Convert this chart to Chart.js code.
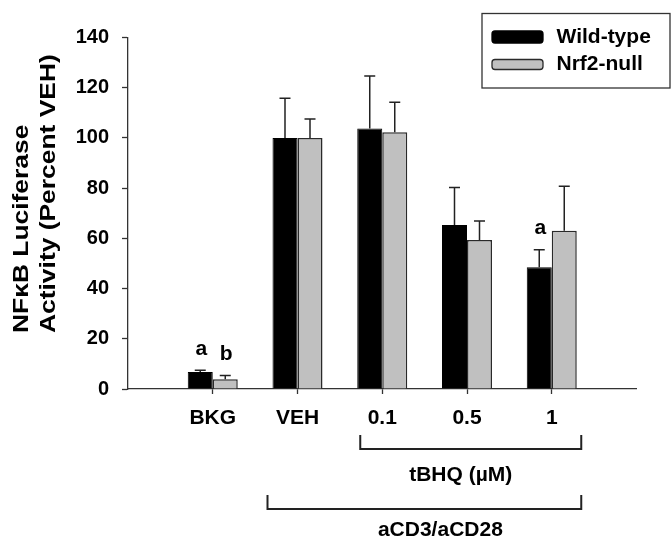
<!DOCTYPE html>
<html lang="en">
<head>
    <meta charset="UTF-8">
    <title>NFkB Luciferase Activity</title>
    <script src="https://cdn.jsdelivr.net/npm/chart.js@4"></script>
    <style>
        html, body { margin: 0; padding: 0; background: #fff; }
        canvas { display: block; }
    </style>
</head>
<body>

<canvas id="chart" width="671" height="538"></canvas>

<script>
    // values (percent of VEH)
    const categories = ['BKG', 'VEH', '0.1', '0.5', '1'];
    const seriesNames = ['Wild-type', 'Nrf2-null'];
    const wildType = [6.8, 100, 103.8, 65.3, 48.5];
    const wildTypeErr = [0.7, 15.8, 20.9, 15.0, 7.0];
    const nrf2Null = [3.9, 100, 102.3, 59.3, 63.0];
    const nrf2NullErr = [1.5, 7.5, 11.9, 7.6, 17.8];
    const wildTypeLetters = ['a', '', '', '', 'a'];
    const nrf2NullLetters = ['b', '', '', '', ''];
    const yMax = 140;
    const yStep = 20;
    const yTitle = ['NF\u03baB Luciferase', 'Activity (Percent VEH)'];
    // brackets under the axis: label, first and last category covered
    const groupLabels = ['tBHQ (\u00b5M)', 'aCD3/aCD28'];
    const groupFrom = ['0.1', 'VEH'];
    const groupTo = ['1', '1'];

    const FONT = "'Liberation Sans', Arial, Helvetica, sans-serif";
    const INK = '#222';

    // one empty slot on each side, so the bars sit at 1..5 on a 0..6 axis like the original
    const labels = ['', ...categories, ''];
    const pad = arr => [null, ...arr, null];

    // error bars (upper half only) and the significance letters
    const errorBars = {
        id: 'errorBars',
        afterDatasetsDraw(chart) {
            const ctx = chart.ctx;
            const yScale = chart.scales.y;
            ctx.save();
            ctx.strokeStyle = INK;
            ctx.lineWidth = 1.5;
            ctx.fillStyle = '#000';
            ctx.font = 'bold 21px ' + FONT;
            ctx.textAlign = 'center';
            ctx.textBaseline = 'middle';
            chart.data.datasets.forEach((ds, d) => {
                chart.getDatasetMeta(d).data.forEach((bar, i) => {
                    const v = ds.data[i];
                    const e = ds.errors[i];
                    if (v == null || e == null) return;
                    const top = yScale.getPixelForValue(v + e);
                    ctx.beginPath();
                    ctx.moveTo(bar.x, bar.y);
                    ctx.lineTo(bar.x, top);
                    ctx.moveTo(bar.x - 5.5, top);
                    ctx.lineTo(bar.x + 5.5, top);
                    ctx.stroke();
                    if (ds.letters[i]) {
                        ctx.fillText(ds.letters[i], bar.x + 1, top - 21);
                    }
                });
            });
            ctx.restore();
        }
    };

    // y title, brackets below the axis, boxed legend
    const decorations = {
        id: 'decorations',
        afterDraw(chart) {
            const ctx = chart.ctx;
            const x = chart.scales.x;
            ctx.save();
            ctx.fillStyle = '#000';

            // y axis title, two lines starting from the same point
            // (the original lettering is drawn wider than Arial, hence the stretch)
            ctx.save();
            ctx.font = 'bold 22px ' + FONT;
            ctx.textAlign = 'left';
            ctx.textBaseline = 'middle';
            ctx.translate(22, 333);
            ctx.rotate(-Math.PI / 2);
            ctx.scale(1.2, 1);
            yTitle.forEach((line, i) => ctx.fillText(line, 0, i * 27));
            ctx.restore();

            // brackets
            const inset = [22, 30];
            const top = [435, 495];
            const textY = [475, 530];
            const textShift = [-10, 16];
            ctx.strokeStyle = INK;
            ctx.lineWidth = 2;
            ctx.font = 'bold 21px ' + FONT;
            ctx.textAlign = 'center';
            ctx.textBaseline = 'middle';
            groupLabels.forEach((txt, g) => {
                const x0 = x.getPixelForValue(labels.indexOf(groupFrom[g])) - inset[g];
                const x1 = x.getPixelForValue(labels.indexOf(groupTo[g])) + 29.5;
                ctx.beginPath();
                ctx.moveTo(x0, top[g]);
                ctx.lineTo(x0, top[g] + 14);
                ctx.lineTo(x1, top[g] + 14);
                ctx.lineTo(x1, top[g]);
                ctx.stroke();
                ctx.fillText(txt, (x0 + x1) / 2 + textShift[g], textY[g]);
            });

            // legend box
            ctx.lineWidth = 1.3;
            ctx.strokeStyle = '#333';
            ctx.strokeRect(482, 13.5, 188, 74.5);
            ctx.textAlign = 'left';
            const rowY = [37, 64.5];
            const swH = [12, 10];
            chart.data.datasets.forEach((ds, d) => {
                ctx.beginPath();
                ctx.roundRect(492, rowY[d] - swH[d] / 2, 51, swH[d], 3);
                ctx.fillStyle = ds.backgroundColor;
                ctx.fill();
                ctx.strokeStyle = ds.borderColor;
                ctx.stroke();
                ctx.fillStyle = '#000';
                ctx.fillText(ds.label, 556.5, rowY[d]);
            });
            ctx.restore();
        }
    };

    new Chart(document.getElementById('chart'), {
        type: 'bar',
        data: {
            labels: labels,
            datasets: [{
                label: seriesNames[0],
                data: pad(wildType),
                errors: pad(wildTypeErr),
                letters: pad(wildTypeLetters),
                backgroundColor: '#000',
                borderColor: '#000',
                borderWidth: 1
            }, {
                label: seriesNames[1],
                data: pad(nrf2Null),
                errors: pad(nrf2NullErr),
                letters: pad(nrf2NullLetters),
                backgroundColor: '#c0c0c0',
                borderColor: '#2a2a2a',
                borderWidth: 1.5
            }]
        },
        options: {
            responsive: false,
            animation: false,
            devicePixelRatio: 1,
            categoryPercentage: 0.59,
            barPercentage: 1.0,
            layout: { padding: { top: 37.5, right: 34.5, left: 0, bottom: 0 } },
            plugins: {
                legend: { display: false },
                tooltip: { enabled: false }
            },
            scales: {
                x: {
                    offset: false,
                    afterFit: s => { s.height = 149; },
                    border: { color: '#333', width: 1.3 },
                    grid: {
                        offset: false,
                        drawOnChartArea: false,
                        tickLength: 5,
                        tickWidth: 1.3,
                        tickColor: c => (c.index === 0 || c.index === labels.length - 1) ? 'rgba(0,0,0,0)' : '#333'
                    },
                    ticks: {
                        color: '#000',
                        padding: 12,
                        maxRotation: 0,
                        autoSkip: false,
                        font: { family: FONT, size: 21, weight: 'bold' }
                    }
                },
                y: {
                    min: 0,
                    max: yMax,
                    afterFit: s => { s.width = 128; },
                    border: { color: '#333', width: 1.3 },
                    grid: {
                        drawOnChartArea: false,
                        tickLength: 6,
                        tickWidth: 1.3,
                        tickColor: '#333'
                    },
                    ticks: {
                        stepSize: yStep,
                        color: '#000',
                        padding: 13,
                        font: { family: FONT, size: 20, weight: 'bold' }
                    }
                }
            }
        },
        plugins: [errorBars, decorations]
    });
</script>

</body>
</html>
